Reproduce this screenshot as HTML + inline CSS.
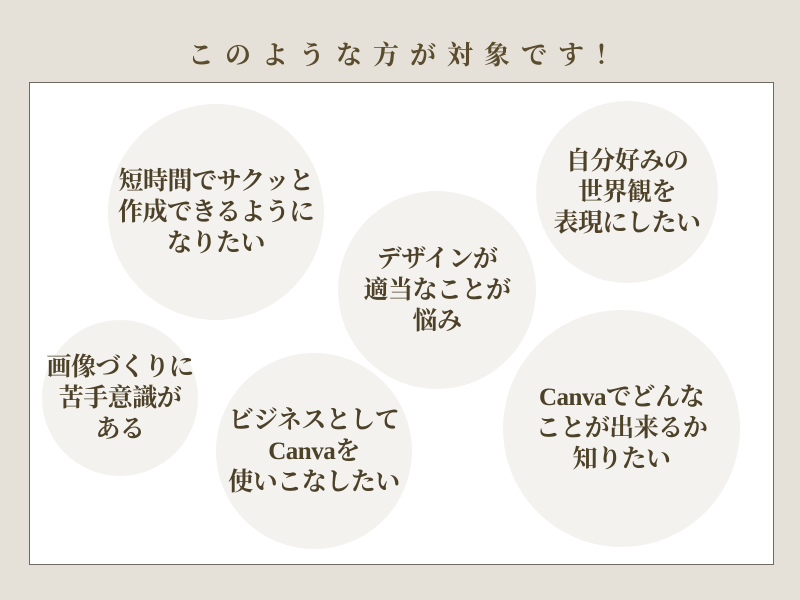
<!DOCTYPE html>
<html><head><meta charset="utf-8"><style>
body{margin:0;width:800px;height:600px;background:#e5e1d9;position:relative;overflow:hidden;font-family:"Liberation Serif","Noto Serif CJK SC","Noto Sans CJK JP",serif;}
.t{position:absolute;top:35px;left:0;width:800px;text-align:center;font-size:26px;font-weight:bold;color:#5a4c2c;letter-spacing:11px;padding-left:20px;box-sizing:border-box}
.box{position:absolute;left:29px;top:82px;width:743px;height:481px;background:#fff;border:1.5px solid #6e6a62;}
.c{position:absolute;border-radius:50%;background:#f4f2ef;display:flex;align-items:center;justify-content:center;text-align:center;color:#4d4128;font-size:25px;font-weight:bold;line-height:31px;letter-spacing:-0.5px}
</style></head><body>
<div class="t">このような方が対象です！</div>
<div class="box"></div>
<div class="c" style="left:108px;top:104px;width:216px;height:216px">短時間でサクッと<br>作成できるように<br>なりたい</div>
<div class="c" style="left:536px;top:101px;width:182px;height:182px">自分好みの<br>世界観を<br>表現にしたい</div>
<div class="c" style="left:338px;top:191px;width:198px;height:198px">デザインが<br>適当なことが<br>悩み</div>
<div class="c" style="left:42px;top:320px;width:156px;height:156px">画像づくりに<br>苦手意識が<br>ある</div>
<div class="c" style="left:216px;top:353px;width:196px;height:196px">ビジネスとして<br>Canvaを<br>使いこなしたい</div>
<div class="c" style="left:503px;top:310px;width:237px;height:237px">Canvaでどんな<br>ことが出来るか<br>知りたい</div>
</body></html>
